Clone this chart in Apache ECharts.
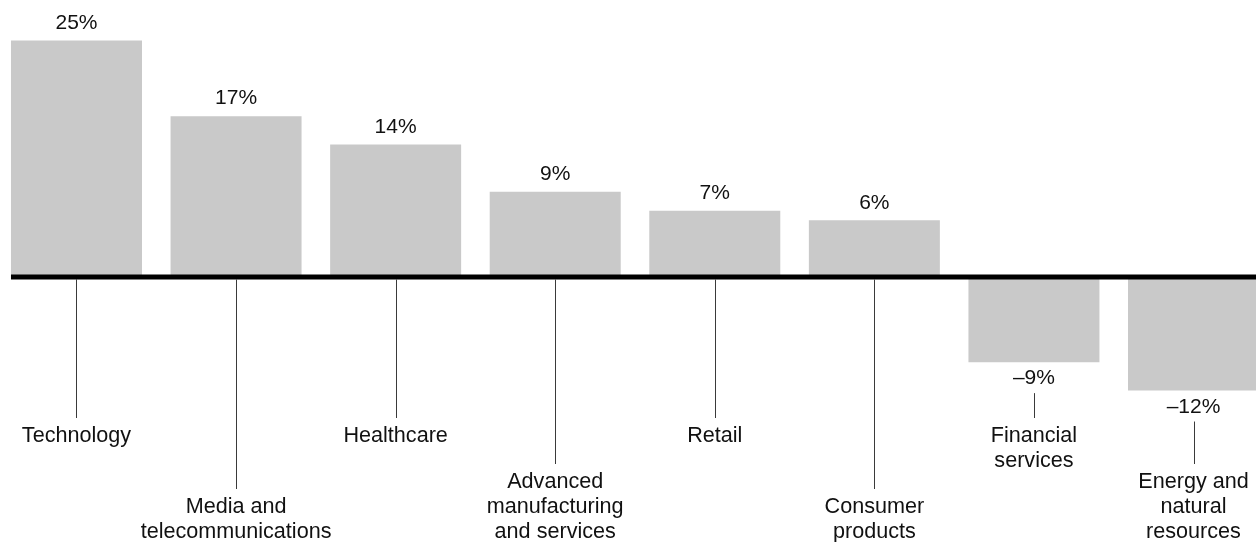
<!DOCTYPE html>
<html>
<head>
<meta charset="utf-8">
<style>
  html, body { margin: 0; padding: 0; background: #fff; }
  #chart { width: 1256px; height: 542px; }
</style>
<script src="https://cdn.jsdelivr.net/npm/echarts@6/dist/echarts.min.js"></script>
</head>
<body>
<div id="chart"></div>
<script>
// Sectors (display text, line breaks included)
const categories = [
  'Technology',
  'Media and\ntelecommunications',
  'Healthcare',
  'Advanced\nmanufacturing\nand services',
  'Retail',
  'Consumer\nproducts',
  'Financial\nservices',
  'Energy and\nnatural\nresources'
];
// Change, percent
const values = [25, 17, 14, 9, 7, 6, -9, -12];

// Which of the three label rows each sector name hangs on
const labelRow = [0, 2, 0, 1, 0, 2, 0, 1];
const rowDrop = [141, 187, 212];   // leader-line end below the baseline, px

const FONT = 'Liberation Sans, Arial, Helvetica, sans-serif';
const BAR_W = 131;

function fmtPct(v) {
  return (v < 0 ? '\u2013' + Math.abs(v) : String(v)) + '%';
}

const chart = echarts.init(document.getElementById('chart'), null, { renderer: 'canvas' });

chart.setOption({
  animation: false,
  backgroundColor: '#ffffff',
  grid: {
    left: -3.3, top: 40.5, width: 1276.6, height: 473,
    containLabel: false,
    outerBoundsMode: 'none'
  },
  xAxis: {
    type: 'category',
    data: categories,
    show: false
  },
  yAxis: {
    type: 'value',
    min: -25,
    max: 25,
    show: false,
    splitLine: { show: false }
  },
  series: [
    {
      type: 'bar',
      data: values.map(v => v < 0
        ? { value: v, label: { position: 'bottom', distance: 6 } }
        : v),
      barWidth: BAR_W,
      itemStyle: { color: '#c9c9c9' },
      label: {
        show: true,
        distance: 7,
        position: 'top',
        color: '#111',
        fontFamily: FONT,
        fontSize: 21,
        formatter: p => fmtPct(p.value)
      }
    },
    {
      // baseline, leader lines and sector names
      type: 'custom',
      z: 5,
      clip: false,
      silent: true,
      data: categories.map((c, i) => [i, values[i]]),
      encode: { x: 0, y: 1 },
      renderItem: function (params, api) {
        const i = api.value(0);
        const v = api.value(1);
        const base = api.coord([i, 0]);
        const end = api.coord([i, v]);
        const x = base[0];
        const y0 = base[1];
        const children = [];
        const lineEnd = y0 + rowDrop[labelRow[i]];
        const lineStart = v >= 0 ? y0 + 2.5 : end[1] + 31;
        children.push({
          type: 'line',
          shape: { x1: Math.round(x) + 0.5, y1: lineStart, x2: Math.round(x) + 0.5, y2: lineEnd },
          style: { stroke: '#3a3a3a', lineWidth: 1 }
        });
        children.push({
          type: 'text',
          style: {
            text: categories[i],
            x: x,
            y: lineEnd + 6,
            align: 'center',
            verticalAlign: 'top',
            fill: '#111',
            font: '21.6px ' + FONT,
            lineHeight: 25
          }
        });
        if (i === 0) {
          children.push({
            type: 'line',
            shape: { x1: x - BAR_W / 2, y1: y0, x2: api.getWidth(), y2: y0 },
            style: { stroke: '#000', lineWidth: 5 }
          });
        }
        return { type: 'group', children: children };
      }
    }
  ]
});
</script>
</body>
</html>
